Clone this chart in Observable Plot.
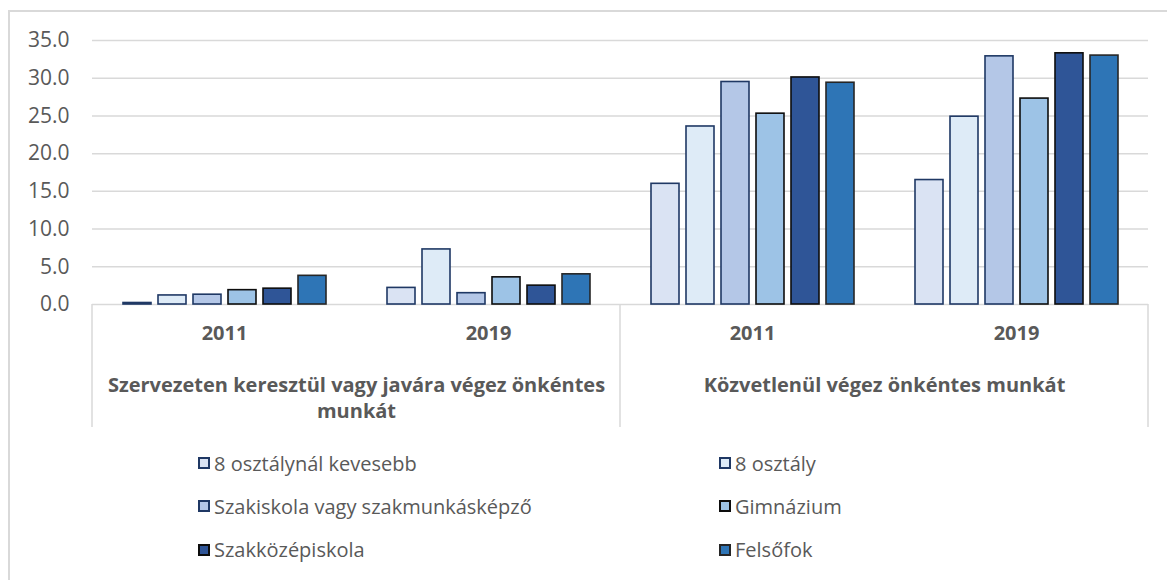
<!DOCTYPE html>
<html>
<head>
<meta charset="utf-8">
<script src="https://cdn.jsdelivr.net/npm/d3@7"></script>
<script src="https://cdn.jsdelivr.net/npm/@observablehq/plot@0.6"></script>
<style>
  html, body { margin: 0; padding: 0; background: #fff; }
  #chart { position: relative; width: 1167px; height: 580px; overflow: hidden; font-family: "Open Sans", sans-serif; }
  #border { position: absolute; left: 8px; top: 10px; right: -10px; bottom: -10px; border-left: 2px solid #d9d9d9; border-top: 2px solid #d9d9d9; }
  #plot { position: absolute; left: 0; top: 0; }
  #legend { position: absolute; left: 198px; top: 441.5px; display: grid; grid-template-columns: 521px 300px; grid-auto-rows: 43.3px; }
  .item { display: flex; align-items: center; font-size: 20px; color: #595959; white-space: nowrap; }
  .sw { width: 12px; height: 12px; box-sizing: border-box; border: 2px solid; margin-right: 4px; flex: none; }
</style>
</head>
<body>
<div id="chart">
  <div id="border"></div>
  <div id="plot"></div>
  <div id="legend"></div>
</div>
<script>
// ---- data ----
const outerCategories = ["Szervezeten keresztül vagy javára végez önkéntes\nmunkát", "Közvetlenül végez önkéntes munkát"];
const years = ["2011", "2019"];
const series = ["8 osztálynál kevesebb", "8 osztály", "Szakiskola vagy szakmunkásképző", "Gimnázium", "Szakközépiskola", "Felsőfok"];
const orgValues2011 = [0.2, 1.2, 1.3, 1.9, 2.1, 3.8];
const orgValues2019 = [2.2, 7.3, 1.5, 3.6, 2.5, 4.0];
const directValues2011 = [16.0, 23.6, 29.5, 25.3, 30.1, 29.4];
const directValues2019 = [16.5, 24.9, 32.9, 27.3, 33.3, 33.0];
const yTicks = [0, 5, 10, 15, 20, 25, 30, 35];

// ---- styles ----
const fills = ["#DAE3F3", "#DEEBF7", "#B4C7E7", "#9DC3E6", "#2F5597", "#2E75B6"];
const strokes = ["#1F3864", "#1F3864", "#1F3864", "#0d0d0d", "#0d0d0d", "#262626"];
const textColor = "#595959";
const gridColor = "#d9d9d9";

// ---- table ----
const valueSets = [[orgValues2011, orgValues2019], [directValues2011, directValues2019]];
const facets = [];
const rows = [];
outerCategories.forEach((outer, oi) => {
  years.forEach((yr, yi) => {
    const key = oi + "-" + yr;
    facets.push({key, outer, oi, year: yr, yi});
    series.forEach((s, si) => rows.push({key, series: s, si, value: valueSets[oi][yi][si]}));
  });
});
const facetKeys = facets.map(d => d.key);
const outerRows = facets.filter(d => d.yi === 0);

const plot = Plot.plot({
  width: 1167,
  height: 440,
  marginLeft: 92,
  marginRight: 19,
  marginTop: 40,
  marginBottom: 136,
  style: {fontFamily: "'Open Sans', sans-serif", background: "transparent", overflow: "visible"},
  fx: {domain: facetKeys, padding: 0, axis: null},
  x: {domain: series, paddingInner: 0.2, paddingOuter: 0.85, axis: null},
  y: {domain: [0, 35], axis: null},
  color: {type: "identity"},
  marks: [
    Plot.ruleY(yTicks, {stroke: gridColor, strokeWidth: 1.5}),
    Plot.barY(rows, {
      fx: "key", x: "series", y: "value",
      fill: d => fills[d.si], stroke: d => strokes[d.si], strokeWidth: 1.6
    }),
    Plot.axisY({ticks: yTicks, tickFormat: d3.format(".1f"), tickSize: 0, tickPadding: 23, fontSize: 21, fill: textColor, label: null}),
    Plot.text(facets, {fx: "key", text: "year", frameAnchor: "bottom", dy: 35, fontWeight: "bold", fontSize: 20, fill: textColor}),
    Plot.text(outerRows, {fx: "key", text: "outer", frameAnchor: "bottom-right", textAnchor: "middle", lineAnchor: "top", dy: 69, lineHeight: 1.3, fontWeight: "bold", fontSize: 20, fill: textColor})
  ]
});

// category separators drawn from Plot's own fx / y scales
const fxScale = plot.scale("fx");
const yScale = plot.scale("y");
const y0 = yScale.apply(0);
const sepX = outerRows.map(d => fxScale.apply(d.key)).concat([fxScale.apply(facetKeys[facetKeys.length - 1]) + fxScale.bandwidth]);
d3.select(plot).append("g")
  .attr("stroke", gridColor).attr("stroke-width", 1.5)
  .selectAll("line").data(sepX).join("line")
  .attr("x1", d => d).attr("x2", d => d)
  .attr("y1", y0).attr("y2", y0 + 123);

document.getElementById("plot").appendChild(plot);

// legend
const legend = d3.select("#legend");
series.forEach((s, i) => {
  const item = legend.append("div").attr("class", "item");
  item.append("span").attr("class", "sw").style("background", fills[i]).style("border-color", strokes[i]);
  item.append("span").text(s);
});
</script>
</body>
</html>
